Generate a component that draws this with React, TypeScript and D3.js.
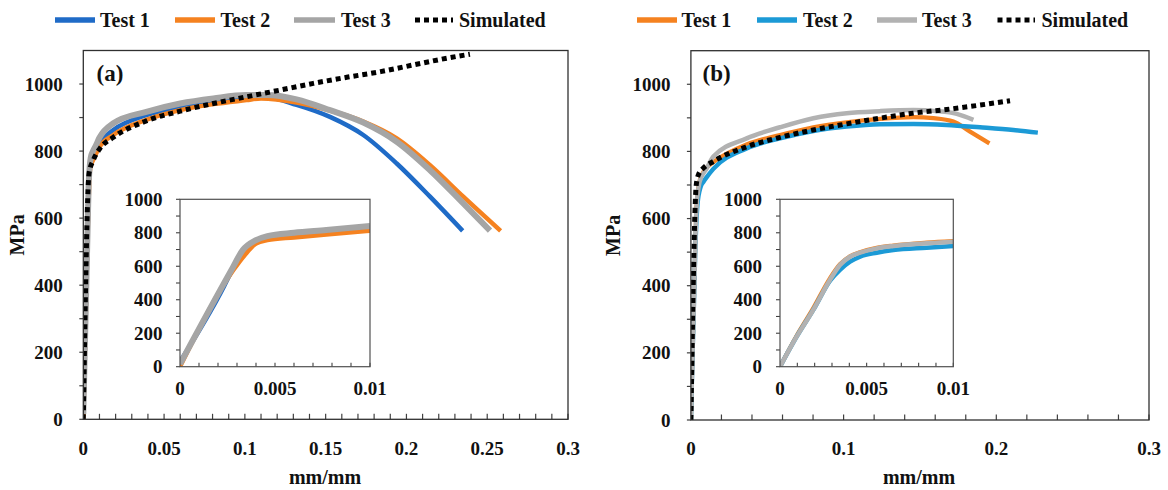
import React from "react";
import * as d3 from "d3";

type Pt = [number, number];

// ---------- Panel (a) data: strain (mm/mm), stress (MPa) ----------
const aTest1: Pt[] = [
  [0, 30], [0.0023, 476], [0.0028, 590], [0.0034, 700], [0.004, 752], [0.0046, 776],
  [0.006, 796], [0.008, 812], [0.01, 826], [0.0186, 863], [0.039, 907], [0.06, 932],
  [0.0805, 947], [0.101, 959], [0.1135, 960], [0.132, 938], [0.1527, 902], [0.1733, 848],
  [0.194, 763], [0.2146, 664], [0.2348, 562],
];
const aTest2: Pt[] = [
  [0, 0], [0.0028, 576], [0.0034, 666], [0.004, 736], [0.0046, 756], [0.006, 772],
  [0.0077, 790], [0.01, 812], [0.0186, 848], [0.039, 893], [0.06, 922], [0.0805, 940],
  [0.101, 952], [0.11, 957], [0.132, 945], [0.1527, 921], [0.1733, 888], [0.194, 838],
  [0.2146, 758], [0.2352, 664], [0.2583, 562],
];
const aTest3: Pt[] = [
  [0, 16], [0.0027, 576], [0.0033, 696], [0.004, 756], [0.0046, 780], [0.006, 800],
  [0.0077, 816], [0.01, 840], [0.0186, 883], [0.039, 917], [0.06, 942], [0.0805, 957],
  [0.101, 967], [0.114, 967], [0.132, 954], [0.1527, 922], [0.1733, 885], [0.194, 828],
  [0.2146, 743], [0.2352, 644], [0.2517, 563],
];
const aSim: Pt[] = [
  [0, 0], [0.0036, 735], [0.0062, 773], [0.0103, 808], [0.0186, 841], [0.039, 890],
  [0.06, 919], [0.0805, 942], [0.101, 962], [0.1218, 982], [0.1424, 1002], [0.163, 1020],
  [0.184, 1037], [0.2043, 1057], [0.225, 1077], [0.2393, 1089],
];

// ---------- Panel (b) data ----------
const bTest1: Pt[] = [
  [0, 0], [0.00096, 185], [0.00192, 350], [0.00288, 528], [0.00346, 612], [0.00404, 660],
  [0.00462, 684], [0.00558, 710], [0.00654, 724], [0.00846, 741], [0.01, 750], [0.0147, 768],
  [0.0365, 821], [0.0584, 849], [0.0802, 872], [0.102, 887], [0.1239, 897], [0.1457, 902],
  [0.1588, 899], [0.1719, 889], [0.1828, 859], [0.1955, 824],
];
const bTest2: Pt[] = [
  [0, 0], [0.00096, 179], [0.00192, 339], [0.0029, 515], [0.00346, 578], [0.00404, 627],
  [0.00462, 657], [0.00558, 681], [0.00654, 697], [0.00846, 711], [0.01, 721], [0.0147, 748],
  [0.0365, 809], [0.0584, 839], [0.0802, 861], [0.102, 874], [0.1239, 881], [0.1457, 882],
  [0.1675, 879], [0.1893, 872], [0.2112, 864], [0.2272, 856],
];
const bTest3: Pt[] = [
  [0, 0], [0.00096, 179], [0.00192, 339], [0.00288, 518], [0.00346, 608], [0.00404, 657],
  [0.00462, 681], [0.00558, 707], [0.00654, 721], [0.00846, 737], [0.01, 747], [0.0147, 785],
  [0.0365, 839], [0.0584, 872], [0.0802, 899], [0.102, 914], [0.1239, 920], [0.1457, 923],
  [0.161, 920], [0.1741, 912], [0.185, 894],
];
const bSim: Pt[] = [
  [0, 0], [0.0035, 700], [0.0049, 730], [0.0081, 750], [0.0147, 770], [0.0365, 814],
  [0.0584, 842], [0.0802, 864], [0.102, 882], [0.1239, 899], [0.1457, 914], [0.1675, 925],
  [0.1893, 938], [0.209, 951],
];

// ---------- labels / ticks ----------
const seriesNames = ["Test 1", "Test 2", "Test 3", "Simulated"];
const yTickLabels = [0, 200, 400, 600, 800, 1000];
const aXTickLabels = [0, 0.05, 0.1, 0.15, 0.2, 0.25, 0.3];
const bXTickLabels = [0, 0.1, 0.2, 0.3];
const insetXTickLabels = [0, 0.005, 0.01];
const insetYTickLabels = [0, 200, 400, 600, 800, 1000];

const FONT = "Liberation Serif";

interface Style { color: string; width: number; dash?: string }

const BLUE_A = "#1F6BC7";
const ORANGE = "#F58220";
const GREY_A = "#A5A5A5";
const BLUE_B = "#1C9AD6";
const GREY_B = "#B2B2B2";
const SIM_DASH = "5 4";

interface Box { left: number; right: number; top: number; bottom: number }

interface PanelProps {
  id: string;
  box: Box;
  inset: Box;
  xMax: number;
  xStep: number;
  xLabels: number[];
  series: { data: Pt[]; style: Style; sim?: boolean }[];
  letter: string;
  letterX: number;
  yTitleX: number;
  xTitleX: number;
  yLabelGap: number;
  insetLabelGap: number;
}

const txt = (size: number): React.CSSProperties => ({
  fontFamily: FONT,
  fontSize: size,
  fontWeight: 700,
});

function Panel(p: PanelProps) {
  const { box, inset } = p;
  const x = d3.scaleLinear().domain([0, p.xMax]).range([box.left, box.right]);
  const y = d3.scaleLinear().domain([0, 1100]).range([box.bottom, box.top]);
  const xi = d3.scaleLinear().domain([0, 0.01]).range([inset.left, inset.right]);
  const yi = d3.scaleLinear().domain([0, 1000]).range([inset.bottom, inset.top]);

  const line = d3.line<Pt>().x((d) => x(d[0])).y((d) => y(d[1])).curve(d3.curveMonotoneX);
  const lineI = d3.line<Pt>().x((d) => xi(d[0])).y((d) => yi(d[1])).curve(d3.curveMonotoneX);

  const nX = Math.round(p.xMax / p.xStep);
  const xMinor = d3.range(1, nX + 1).map((i) => i * p.xStep);
  const yMinor = d3.range(0, 11).map((i) => i * 100);
  const xiMinor = d3.range(1, 11).map((i) => i * 0.001);

  const tickStroke = "#404040";
  return (
    <g>
      <defs>
        <clipPath id={`clip-${p.id}`}>
          <rect x={box.left} y={box.top} width={box.right - box.left} height={box.bottom - box.top} />
        </clipPath>
        <clipPath id={`clipi-${p.id}`}>
          <rect x={inset.left} y={inset.top} width={inset.right - inset.left} height={inset.bottom - inset.top} />
        </clipPath>
      </defs>
      {yMinor.map((v) => (
        <line key={`yt${v}`} x1={box.left - 4} x2={box.left} y1={y(v)} y2={y(v)} stroke={tickStroke} strokeWidth={1.2} />
      ))}
      {xMinor.map((v, i) => (
        <line key={`xt${i}`} x1={x(v)} x2={x(v)} y1={box.bottom} y2={box.bottom - 5.5} stroke={tickStroke} strokeWidth={1.2} />
      ))}
      <g clipPath={`url(#clip-${p.id})`}>
        {p.series.map((s, i) => (
          <path
            key={i}
            d={line(s.data) || ""}
            fill="none"
            stroke={s.style.color}
            strokeWidth={s.style.width}
            strokeDasharray={s.style.dash}
            strokeLinejoin="round"
          />
        ))}
      </g>
      <rect x={box.left} y={box.top} width={box.right - box.left} height={box.bottom - box.top} fill="none" stroke="#303030" strokeWidth={1.3} />
      {yTickLabels.map((v) => (
        <text key={`yl${v}`} x={box.left - p.yLabelGap} y={y(v) + 6.5} textAnchor="end" style={txt(19)} fill="#111">
          {String(v)}
        </text>
      ))}
      {p.xLabels.map((v) => (
        <text key={`xl${v}`} x={x(v)} y={455} textAnchor="middle" style={txt(19)} fill="#111">
          {String(v)}
        </text>
      ))}
      <text x={p.letterX} y={81} style={txt(23)} fill="#111">{p.letter}</text>
      <text x={p.xTitleX} y={484} textAnchor="middle" style={txt(20)} fill="#111">mm/mm</text>
      <text
        transform={`translate(${p.yTitleX},${(box.top + box.bottom) / 2}) rotate(-90)`}
        textAnchor="middle"
        style={txt(20)}
        fill="#111"
      >
        MPa
      </text>

      <rect x={inset.left} y={inset.top} width={inset.right - inset.left} height={inset.bottom - inset.top} fill="#fff" />
      {yMinor.filter((v) => v <= 1000).map((v) => (
        <line key={`iyt${v}`} x1={inset.left - 4} x2={inset.left} y1={yi(v)} y2={yi(v)} stroke={tickStroke} strokeWidth={1.1} />
      ))}
      {xiMinor.map((v, i) => (
        <line key={`ixt${i}`} x1={xi(v)} x2={xi(v)} y1={inset.bottom} y2={inset.bottom - 4} stroke={tickStroke} strokeWidth={1.1} />
      ))}
      <g clipPath={`url(#clipi-${p.id})`}>
        {p.series.filter((s) => !s.sim).map((s, i) => (
          <path
            key={i}
            d={lineI(s.data.filter((d) => d[0] <= 0.0100001)) || ""}
            fill="none"
            stroke={s.style.color}
            strokeWidth={s.style.width}
            strokeLinejoin="round"
          />
        ))}
      </g>
      <rect x={inset.left} y={inset.top} width={inset.right - inset.left} height={inset.bottom - inset.top} fill="none" stroke="#505050" strokeWidth={1.2} />
      {insetYTickLabels.map((v) => (
        <text key={`iyl${v}`} x={inset.left - p.insetLabelGap} y={yi(v) + 6.5} textAnchor="end" style={txt(19)} fill="#111">
          {String(v)}
        </text>
      ))}
      {insetXTickLabels.map((v) => (
        <text key={`ixl${v}`} x={xi(v)} y={395} textAnchor="middle" style={txt(19)} fill="#111">
          {String(v)}
        </text>
      ))}
    </g>
  );
}

interface LegendItem { name: string; style: Style; x1: number; x2: number; tx: number }

function Legend({ items }: { items: LegendItem[] }) {
  return (
    <g>
      {items.map((it, i) => (
        <g key={i}>
          <line x1={it.x1} x2={it.x2} y1={20} y2={20} stroke={it.style.color} strokeWidth={it.style.dash ? 5 : 5.5} strokeDasharray={it.style.dash} />
          <text x={it.tx} y={26.7} style={txt(20)} fill="#111">{it.name}</text>
        </g>
      ))}
    </g>
  );
}

export default function App() {
  const sA: Style[] = [
    { color: BLUE_A, width: 4.5 },
    { color: ORANGE, width: 4.5 },
    { color: GREY_A, width: 6 },
    { color: "#000", width: 5, dash: SIM_DASH },
  ];
  const sB: Style[] = [
    { color: ORANGE, width: 4.2 },
    { color: BLUE_B, width: 4.5 },
    { color: GREY_B, width: 4.5 },
    { color: "#000", width: 5, dash: SIM_DASH },
  ];
  const legA: LegendItem[] = [
    { name: seriesNames[0], style: sA[0], x1: 55, x2: 95, tx: 100 },
    { name: seriesNames[1], style: sA[1], x1: 175, x2: 215, tx: 220.5 },
    { name: seriesNames[2], style: sA[2], x1: 294, x2: 335, tx: 341 },
    { name: seriesNames[3], style: sA[3], x1: 415, x2: 453, tx: 459 },
  ];
  const legB: LegendItem[] = [
    { name: seriesNames[0], style: sB[0], x1: 637, x2: 677, tx: 681.5 },
    { name: seriesNames[1], style: sB[1], x1: 757, x2: 797, tx: 803 },
    { name: seriesNames[2], style: sB[2], x1: 877, x2: 917, tx: 922 },
    { name: seriesNames[3], style: sB[3], x1: 997.5, x2: 1035, tx: 1041.5 },
  ];
  return (
    <svg width={1168} height={490} style={{ position: "absolute", left: 0, top: 0, background: "#fff" }}>
      <rect x={0} y={0} width={1168} height={490} fill="#fff" />
      <Legend items={legA} />
      <Legend items={legB} />
      <Panel
        id="a"
        box={{ left: 83.3, right: 568, top: 50.5, bottom: 419.3 }}
        inset={{ left: 180, right: 370, top: 199.3, bottom: 366.7 }}
        xMax={0.3}
        xStep={0.01}
        xLabels={aXTickLabels}
        series={[
          { data: aTest1, style: sA[0] },
          { data: aTest2, style: sA[1] },
          { data: aTest3, style: sA[2] },
          { data: aSim, style: sA[3], sim: true },
        ]}
        letter="(a)"
        letterX={96.5}
        yTitleX={24}
        xTitleX={325}
        yLabelGap={20.5}
        insetLabelGap={17.5}
      />
      <Panel
        id="b"
        box={{ left: 690.9, right: 1149, top: 50.7, bottom: 420 }}
        inset={{ left: 780, right: 953.3, top: 199.3, bottom: 366.7 }}
        xMax={0.3}
        xStep={0.02}
        xLabels={bXTickLabels}
        series={[
          { data: bTest1, style: sB[0] },
          { data: bTest2, style: sB[1] },
          { data: bTest3, style: sB[2] },
          { data: bSim, style: sB[3], sim: true },
        ]}
        letter="(b)"
        letterX={702.5}
        yTitleX={620}
        xTitleX={919}
        yLabelGap={20.5}
        insetLabelGap={18}
      />
    </svg>
  );
}
